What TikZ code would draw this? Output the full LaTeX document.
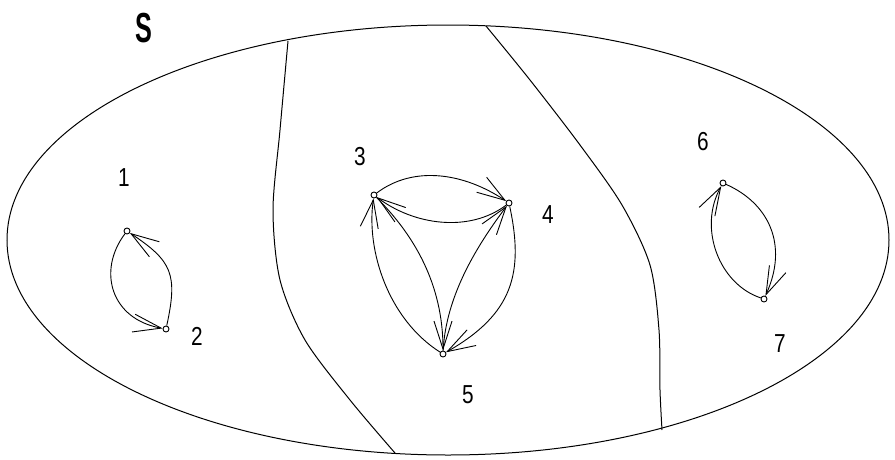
\documentclass[tikz,border=0pt]{standalone}
\usepackage{fontspec}
\newfontfamily\lblfont{Liberation Sans}
\usetikzlibrary{arrows.meta}

\tikzset{
  vertex/.style={circle, draw, line width=0.9pt, inner sep=0pt, minimum size=6pt},
  arc/.style={line width=0.9pt, -{Straight Barb[length=28pt, width=18pt, line width=0.9pt]}},
  vlabel/.style={font=\lblfont\fontsize{26}{26}\selectfont, inner sep=0pt},
  border/.style={line width=1pt}
}
\newcommand{\narrow}[1]{\scalebox{0.8}[1]{#1}}

\begin{document}
\begin{tikzpicture}[x=1pt, y=-1pt]
  \useasboundingbox (0,0) rectangle (895,459);
  % the set S and its three parts
  \draw[border] (448,240) ellipse [x radius=441, y radius=215];
  \draw[border] plot[smooth] coordinates {(288,41) (280,130) (273,210) (280,280) (305,340) (350,400) (395,453)};
  \draw[border] plot[smooth] coordinates {(486,26) (530,80) (580,145) (622,205) (650,265) (659,330) (660,390) (662,430)};
  \node[font=\lblfont\bfseries\fontsize{42}{42}\selectfont, inner sep=0pt] (S) at (144,28) {\scalebox{0.6}[1]{S}};

  % vertices
  \node[vertex] (n1) at (127,231) {};
  \node[vertex] (n2) at (166,329) {};
  \node[vertex] (n3) at (374,195) {};
  \node[vertex] (n4) at (509,203) {};
  \node[vertex] (n5) at (443,354) {};
  \node[vertex] (n6) at (723,183) {};
  \node[vertex] (n7) at (764,299) {};

  \node[vlabel] (l1) at (124,178) {\narrow{1}};
  \node[vlabel] (l2) at (197,336) {\narrow{2}};
  \node[vlabel] (l3) at (360,157) {\narrow{3}};
  \node[vlabel] (l4) at (548,215) {\narrow{4}};
  \node[vlabel] (l5) at (468,395) {\narrow{5}};
  \node[vlabel] (l6) at (703,142) {\narrow{6}};
  \node[vlabel] (l7) at (780,344) {\narrow{7}};

  % first part
  \draw[arc] (n1) .. controls +(-30,40) and +(-55,-10) .. (n2);
  \draw[arc] (n2) .. controls +(12,-55) and +(45,30) .. (n1);
  % second part
  \draw[arc] (n3) .. controls +(40,-30) and +(-45,-30) .. (n4);
  \draw[arc] (n4) .. controls +(-40,30) and +(40,30) .. (n3);
  \draw[arc] (n5) .. controls +(-55,-35) and +(-8,55) .. (n3);
  \draw[arc] (n3) .. controls +(40,40) and +(0,-70) .. (n5);
  \draw[arc] (n4) .. controls +(15,70) and +(70,-40) .. (n5);
  \draw[arc] (n5) .. controls +(3,-60) and +(-30,40) .. (n4);
  % third part
  \draw[arc] (n6) .. controls +(45,20) and +(25,-55) .. (n7);
  \draw[arc] (n7) .. controls +(-45,-15) and +(-25,45) .. (n6);
\end{tikzpicture}
\end{document}
